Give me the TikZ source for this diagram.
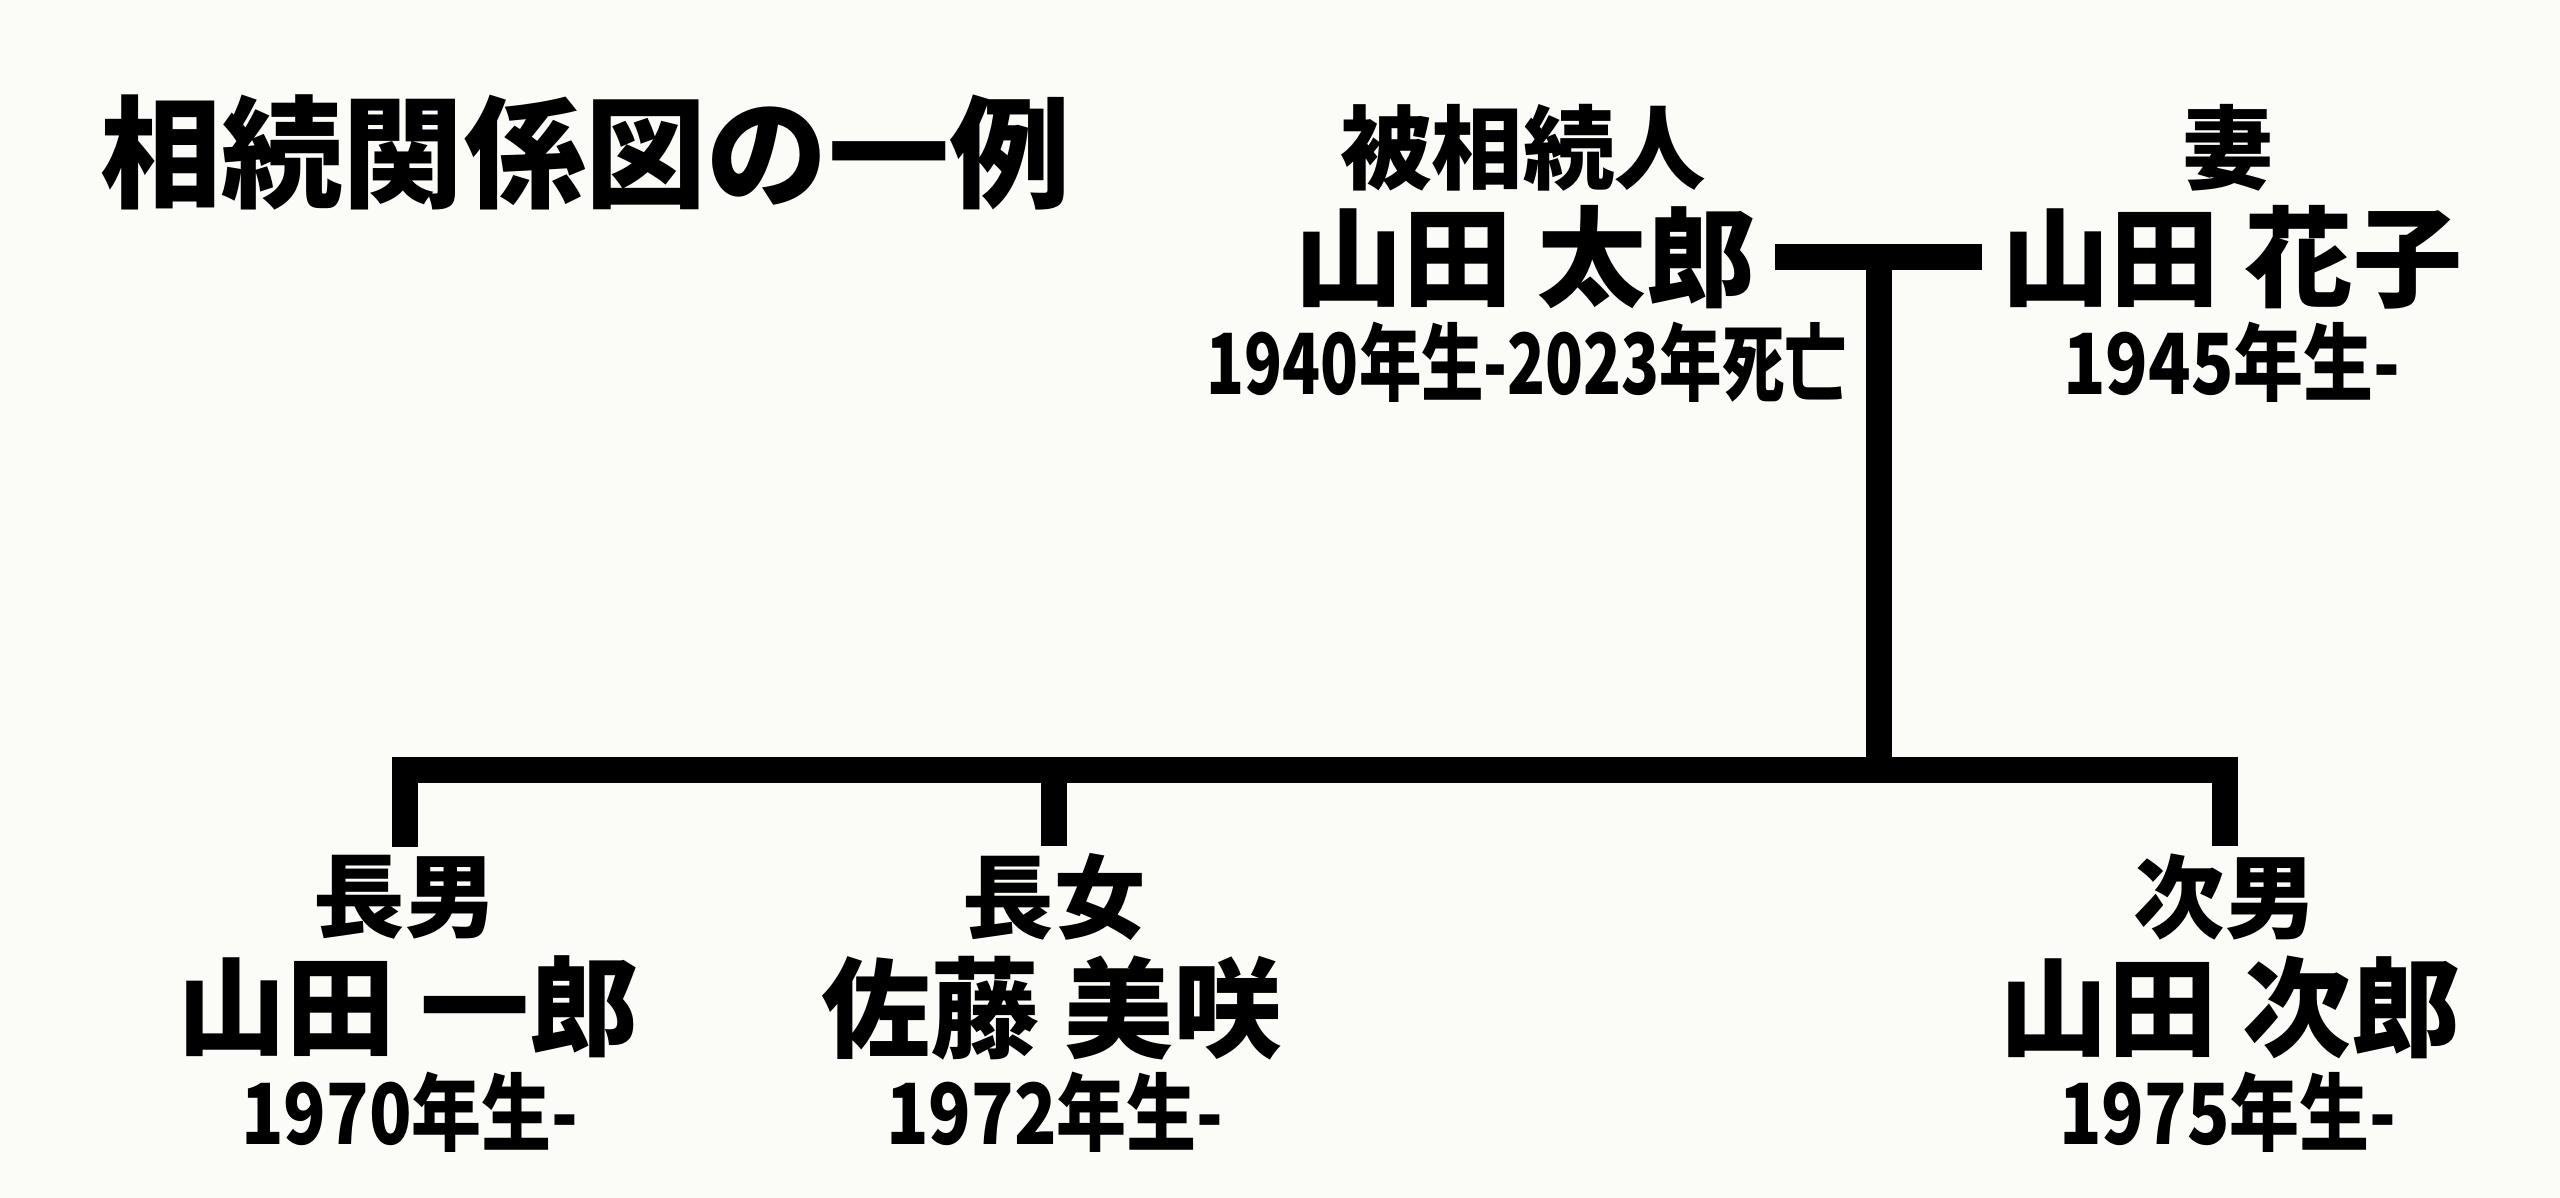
\documentclass[tikz,border=0pt]{standalone}
\usepackage{fontspec}
\setmainfont{Noto Sans CJK JP}
\usetikzlibrary{calc}
\definecolor{paper}{RGB}{251,251,247}

\tikzset{
  role/.style={inner sep=0pt, font=\fontsize{26pt}{26pt}\selectfont\bfseries},
  person/.style={inner sep=0pt, font=\fontsize{31pt}{31pt}\selectfont\bfseries},
  years/.style={inner sep=0pt, xscale=#1, transform shape, font=\fontsize{24pt}{24pt}\selectfont\bfseries},
  years/.default=0.83,
  bar/.style={line width=0.26cm, line join=miter}
}

\begin{document}
\begin{tikzpicture}
    \fill[paper] (0,0) rectangle (25.6,-11.98);
    \useasboundingbox (0,0) rectangle (25.6,-11.98);
    \node[inner sep=0pt, font=\fontsize{34.5pt}{34.5pt}\selectfont\bfseries] (title) at (5.855,-1.52) {相続関係図の一例};
    \node[role] (deceasedL) at (15.23,-1.48) {被相続人};
    \node[person] (taro) at (15.25,-2.57) {山田 太郎};
    \node[years=0.74] (taroY) at (15.27,-3.62) {1940年生-2023年死亡};
    \node[role] (wifeL) at (22.28,-1.48) {妻};
    \node[person] (hanako) at (22.32,-2.57) {山田 花子};
    \node[years] (hanakoY) at (22.32,-3.62) {1945年生-};
    \node[role] (son1L) at (4.05,-8.97) {長男};
    \node[person] (ichiro) at (4.08,-10.07) {山田 一郎};
    \node[years] (ichiroY) at (4.10,-11.12) {1970年生-};
    \node[role] (daughterL) at (10.54,-8.97) {長女};
    \node[person] (misaki) at (10.52,-10.08) {佐藤 美咲};
    \node[years] (misakiY) at (10.55,-11.12) {1972年生-};
    \node[role] (son2L) at (22.25,-8.97) {次男};
    \node[person] (jiro) at (22.30,-10.07) {山田 次郎};
    \node[years] (jiroY) at (22.28,-11.12) {1975年生-};
    \coordinate (couple) at ($(taro.east)!0.5!(hanako.west)$);
    \coordinate (kids) at (couple |- 0,-7.70);
    \draw[bar, shorten <=0.19cm, shorten >=0.19cm] (taro.east) -- (hanako.west);
    \draw[bar] (couple) -- (kids);
    \draw[bar, shorten <=0.07cm, shorten >=0.07cm] (son1L.north) |- (kids) -| (son2L.north);
    \draw[bar, shorten <=0.07cm] (daughterL.north) -- (daughterL.north |- kids);
\end{tikzpicture}
\end{document}
